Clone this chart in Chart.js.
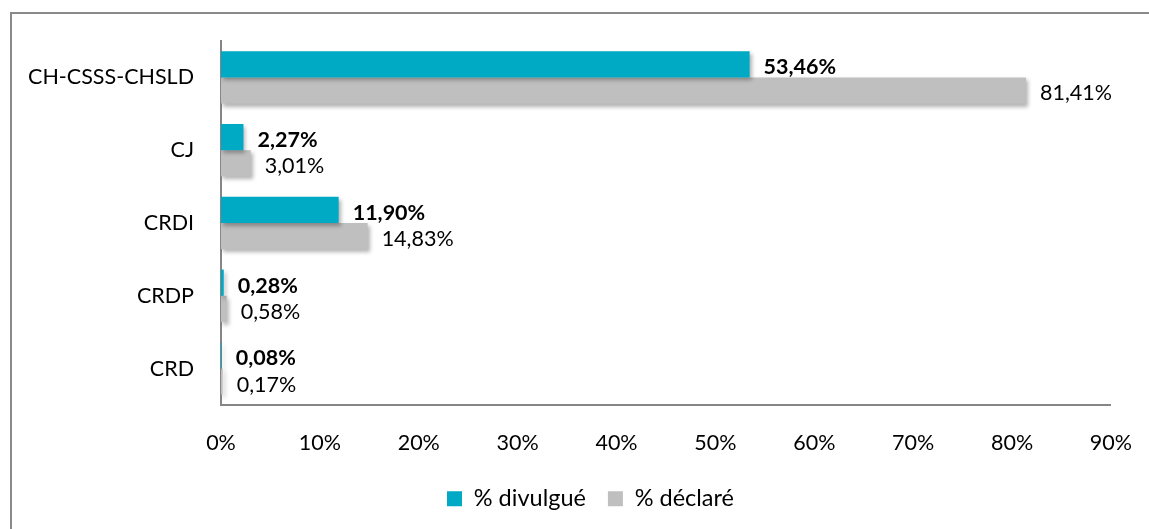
<!DOCTYPE html>
<html>
<head>
<meta charset="utf-8">
<script src="https://cdn.jsdelivr.net/npm/chart.js@4"></script>
<style>
  html, body { margin: 0; padding: 0; background: #fff; }
  #wrap { position: relative; width: 1149px; height: 529px; overflow: hidden; }
  #frame { position: absolute; left: 10px; top: 12px; width: 1200px; height: 600px;
           border-left: 2px solid #8a8a8a; border-top: 2px solid #8a8a8a; box-sizing: border-box; }
  canvas { position: absolute; left: 0; top: 0; }
</style>
</head>
<body>
<div id="wrap">
  <div id="frame"></div>
  <canvas id="chart" width="1149" height="529"></canvas>
</div>
<script>
const categories = ['CH-CSSS-CHSLD', 'CJ', 'CRDI', 'CRDP', 'CRD'];
const divulgue = [53.46, 2.27, 11.90, 0.28, 0.08];
const declare = [81.41, 3.01, 14.83, 0.58, 0.17];
const xTicks = [0, 10, 20, 30, 40, 50, 60, 70, 80, 90];

const FONT = "Lato, 'Open Sans', sans-serif";
const SIZE = 21.5;

const fmt = v => v.toFixed(2).replace('.', ',') + '%';

// soft drop shadow under the bars
const barShadow = {
  id: 'barShadow',
  beforeDatasetDraw(chart) {
    const ctx = chart.ctx;
    ctx.save();
    ctx.shadowColor = 'rgba(0,0,0,0.30)';
    ctx.shadowOffsetX = 2;
    ctx.shadowOffsetY = 3;
    ctx.shadowBlur = 4;
  },
  afterDatasetDraw(chart) {
    chart.ctx.restore();
  }
};

// value labels right of each bar
const valueLabels = {
  id: 'valueLabels',
  afterDatasetsDraw(chart) {
    const ctx = chart.ctx;
    chart.data.datasets.forEach((ds, i) => {
      const meta = chart.getDatasetMeta(i);
      meta.data.forEach((bar, j) => {
        ctx.save();
        ctx.font = (i === 0 ? 'bold ' : '') + SIZE + 'px ' + FONT;
        ctx.fillStyle = '#000';
        ctx.textAlign = 'left';
        ctx.textBaseline = 'middle';
        ctx.fillText(fmt(ds.data[j]), bar.x + 14, bar.y + 3);
        ctx.restore();
      });
    });
  }
};

// legend sits a bit right of the canvas centre in the original
const legendShift = {
  id: 'legendShift',
  afterLayout(chart) {
    chart.legend.left += 31;
    chart.legend.right += 31;
  }
};

const ctx = document.getElementById('chart').getContext('2d');
new Chart(ctx, {
  type: 'bar',
  data: {
    labels: categories,
    datasets: [{
      label: '% divulgué',
      data: divulgue,
      backgroundColor: '#00A9C4',
      borderWidth: 0
    }, {
      label: '% déclaré',
      data: declare,
      backgroundColor: '#BFBFBF',
      borderWidth: 0
    }]
  },
  options: {
    indexAxis: 'y',
    responsive: false,
    animation: false,
    layout: { padding: { top: 41, right: 30, bottom: 14, left: 0 } },
    datasets: {
      bar: { categoryPercentage: 0.72, barPercentage: 1.0 }
    },
    scales: {
      x: {
        min: 0,
        max: 90,
        afterBuildTicks: s => { s.ticks = xTicks.map(v => ({ value: v })); },
        afterFit: s => { s.height = 60; },
        grid: { display: false },
        border: { display: true, color: '#868686', width: 2 },
        ticks: {
          padding: 17,
          color: '#000',
          font: { family: FONT, size: SIZE },
          callback: v => v + '%'
        }
      },
      y: {
        afterFit: s => { s.width = 221; },
        grid: { display: false },
        border: { display: true, color: '#868686', width: 2 },
        ticks: {
          padding: 19,
          color: '#000',
          font: { family: FONT, size: SIZE }
        }
      }
    },
    plugins: {
      legend: {
        position: 'bottom',
        maxHeight: 50,
        labels: {
          boxWidth: 15,
          boxHeight: 15,
          padding: 22,
          color: '#000',
          font: { family: FONT, size: 23.5 }
        }
      },
      tooltip: { enabled: false }
    }
  },
  plugins: [barShadow, valueLabels, legendShift]
});
</script>
</body>
</html>
